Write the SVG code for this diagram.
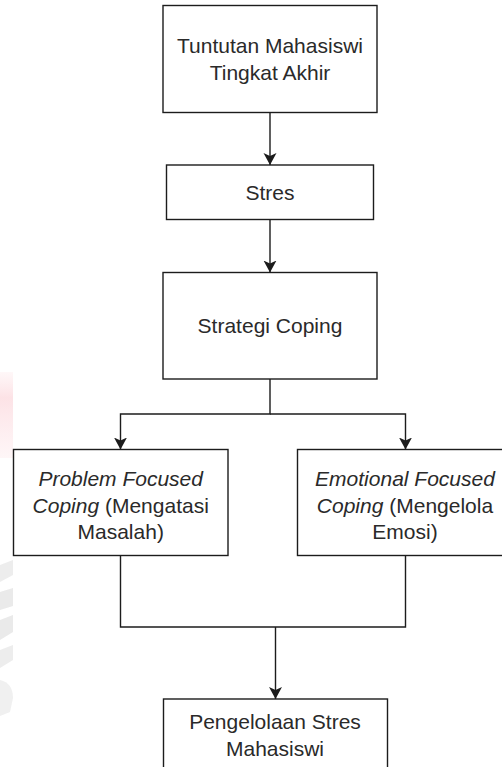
<svg xmlns="http://www.w3.org/2000/svg" width="502" height="767" viewBox="0 0 502 767">
<defs>
<style>
.box{fill:#ffffff;stroke:#1c1c1c;stroke-width:1.4}
.edge{fill:none;stroke:#1c1c1c;stroke-width:1.4}
.t{font-family:"Liberation Sans",Arial,sans-serif;font-size:21px;fill:#2a2a2a;text-anchor:middle}
.i{font-style:italic}
</style>
<marker id="arr" viewBox="0 0 12 14" markerWidth="12" markerHeight="14" refX="12" refY="7" orient="auto" markerUnits="userSpaceOnUse">
<path d="M0,0.5 L12,7 L0,13.5 L3,7 Z" fill="#1c1c1c"/>
</marker>
<linearGradient id="pk" x1="0" y1="0" x2="0" y2="1">
<stop offset="0" stop-color="#fde3e6" stop-opacity="0.3"/>
<stop offset="0.3" stop-color="#fcdfe3"/>
<stop offset="1" stop-color="#fde6e9" stop-opacity="0.4"/>
</linearGradient>
</defs>
<rect width="502" height="767" fill="#ffffff"/>
<g id="watermark" opacity="0.9">
<rect x="0" y="372" width="13" height="86" fill="url(#pk)"/>
<path d="M0,565 L13,560 L13,575 L0,582 Z" fill="#ececec"/>
<path d="M0,592 L13,588 L13,606 L0,610 Z" fill="#e8e8e8"/>
<path d="M0,620 L13,615 L13,632 L0,640 Z" fill="#e8e8e8"/>
<path d="M0,650 L13,645 L13,660 L0,668 Z" fill="#ececec"/>
<path d="M0,680 Q13,683 13,698 L10,712 L0,716 Z" fill="#efefef"/>
</g>
<g id="connectors">
<path class="edge" d="M270,112.5 V165" marker-end="url(#arr)"/>
<path class="edge" d="M270,219.5 V272.5" marker-end="url(#arr)"/>
<path class="edge" d="M270,379 V414 H120.5 V449.5" marker-end="url(#arr)"/>
<path class="edge" d="M270,414 H405.5 V449.5" marker-end="url(#arr)"/>
<path class="edge" d="M120.5,555.5 V627 H405.5 V555.5"/>
<path class="edge" d="M275.5,627 V699" marker-end="url(#arr)"/>
</g>
<g id="n1">
<rect class="box" x="163" y="5.5" width="214" height="107"/>
<text class="t" x="270" y="53.3">Tuntutan Mahasiswi</text>
<text class="t" x="270" y="80">Tingkat Akhir</text>
</g>
<g id="n2">
<rect class="box" x="166.5" y="165" width="207" height="54.5"/>
<text class="t" x="270" y="199.5">Stres</text>
</g>
<g id="n3">
<rect class="box" x="163" y="272.5" width="214" height="106.5"/>
<text class="t" x="270" y="332.7">Strategi Coping</text>
</g>
<g id="n4">
<rect class="box" x="13.5" y="449.5" width="214.5" height="106"/>
<text class="t" x="120.7" y="486"><tspan class="i">Problem Focused</tspan></text>
<text class="t" x="120.7" y="512.7"><tspan class="i">Coping</tspan> (Mengatasi</text>
<text class="t" x="120.7" y="539.3">Masalah)</text>
</g>
<g id="n5">
<rect class="box" x="297.5" y="449.5" width="216" height="106"/>
<text class="t" x="405" y="486"><tspan class="i">Emotional Focused</tspan></text>
<text class="t" x="405" y="512.7"><tspan class="i">Coping</tspan> (Mengelola</text>
<text class="t" x="405" y="539.3">Emosi)</text>
</g>
<g id="n6">
<rect class="box" x="163.5" y="699" width="224" height="90"/>
<text class="t" x="275" y="728.5">Pengelolaan Stres</text>
<text class="t" x="275" y="755.5">Mahasiswi</text>
</g>
</svg>
